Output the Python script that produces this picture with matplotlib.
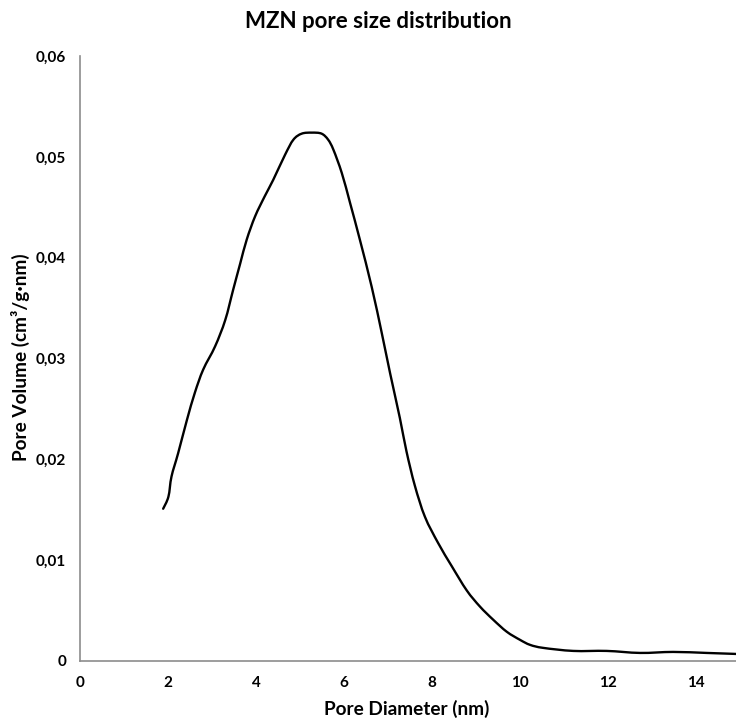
import matplotlib
matplotlib.use("Agg")
import matplotlib.pyplot as plt
from matplotlib.path import Path
from matplotlib.patches import PathPatch
from matplotlib.ticker import FixedLocator, FixedFormatter

plt.rcParams['font.family'] = ['Lato', 'DejaVu Sans']

# Pore size distribution of MZN
pore_diameter_nm = [1.89, 2.01, 2.08, 2.23, 2.43, 2.61, 2.80, 3.07, 3.30, 3.48,
                    3.64, 3.79, 3.98, 4.20, 4.39, 4.66, 4.85, 5.04, 5.27, 5.49,
                    5.64, 5.76, 5.95, 6.14, 6.36, 6.63, 6.86, 7.05, 7.27, 7.42,
                    7.61, 7.84, 8.14, 8.45, 8.79, 9.09, 9.39, 9.70, 10.0, 10.23,
                    10.53, 11.21, 11.97, 12.73, 13.48, 14.24, 14.91]
pore_volume = [0.0151, 0.0163, 0.0183, 0.0206, 0.0239, 0.0266, 0.0289, 0.0312, 0.0338, 0.0368,
               0.0394, 0.0418, 0.0441, 0.0461, 0.0477, 0.0502, 0.0517, 0.0523, 0.0524, 0.0523,
               0.0517, 0.0507, 0.0484, 0.0454, 0.0418, 0.0371, 0.0325, 0.0285, 0.0241, 0.0208,
               0.0174, 0.0143, 0.0117, 0.0094, 0.0070, 0.0054, 0.0041, 0.0029, 0.0021, 0.0016,
               0.0013, 0.0010, 0.0010, 0.0008, 0.0009, 0.0008, 0.0007]

x_ticks = [0, 2, 4, 6, 8, 10, 12, 14]
x_tick_labels = ["0", "2", "4", "6", "8", "10", "12", "14"]
y_ticks = [0, 0.01, 0.02, 0.03, 0.04, 0.05, 0.06]
y_tick_labels = ["0", "0,01", "0,02", "0,03", "0,04", "0,05", "0,06"]


def smooth_path(xs, ys, tension=1.0 / 6.0):
    """Catmull-Rom style cubic Bezier path through the given points."""
    pts = list(zip(xs, ys))
    verts = [pts[0]]
    codes = [Path.MOVETO]
    n = len(pts)
    for i in range(n - 1):
        p0 = pts[i - 1] if i > 0 else pts[i]
        p1 = pts[i]
        p2 = pts[i + 1]
        p3 = pts[i + 2] if i + 2 < n else pts[i + 1]
        c1 = (p1[0] + (p2[0] - p0[0]) * tension, p1[1] + (p2[1] - p0[1]) * tension)
        c2 = (p2[0] - (p3[0] - p1[0]) * tension, p2[1] - (p3[1] - p1[1]) * tension)
        verts += [c1, c2, p2]
        codes += [Path.CURVE4, Path.CURVE4, Path.CURVE4]
    return Path(verts, codes)


fig = plt.figure(figsize=(7.36, 7.2), dpi=100)
ax = fig.add_axes([80 / 736, 1 - 661 / 720, 1 - 80 / 736, (661 - 56) / 720])

curve = PathPatch(smooth_path(pore_diameter_nm, pore_volume), fill=False,
                  edgecolor="black", linewidth=1.7, capstyle="round", joinstyle="round")
ax.add_patch(curve)

ax.set_xlim(0, 14.91)
ax.set_ylim(0, 0.06)

ax.xaxis.set_major_locator(FixedLocator(x_ticks))
ax.xaxis.set_major_formatter(FixedFormatter(x_tick_labels))
ax.yaxis.set_major_locator(FixedLocator(y_ticks))
ax.yaxis.set_major_formatter(FixedFormatter(y_tick_labels))

ax.tick_params(axis="both", length=0, labelsize=11, colors="black")
ax.tick_params(axis="x", pad=11)
ax.tick_params(axis="y", pad=10)
for lbl in ax.get_xticklabels() + ax.get_yticklabels():
    lbl.set_fontweight("bold")

for side in ("top", "right"):
    ax.spines[side].set_visible(False)
for side in ("left", "bottom"):
    ax.spines[side].set_color("#8c8c8c")
    ax.spines[side].set_linewidth(1.2)

ax.set_xlabel("Pore Diameter (nm)", fontsize=13.7, fontweight="bold")
ax.set_ylabel("Pore Volume (cm³/g·nm)", fontsize=13.7, fontweight="bold")
ax.xaxis.set_label_coords(0.4985, (661 - 709) / 605)
ax.xaxis.label.set_va("center")
ax.yaxis.set_label_coords((20 - 80) / 656, (661 - 357) / 605)
ax.yaxis.label.set_va("center")
ax.yaxis.label.set_ha("center")

fig.text(378 / 736, 1 - 21 / 720, "MZN pore size distribution", ha="center", va="center",
         fontsize=16, fontweight="bold")

fig.savefig("out.png", dpi=100, facecolor="white")
